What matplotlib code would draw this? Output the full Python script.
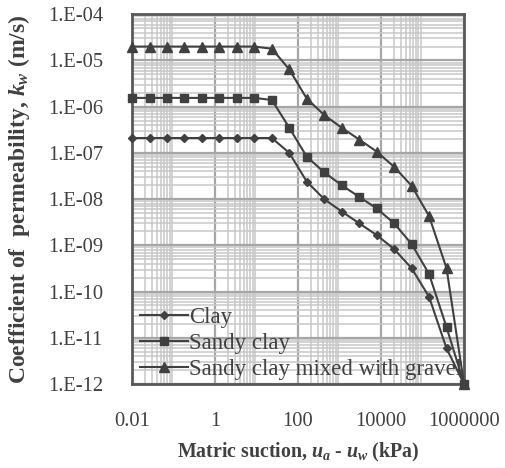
import matplotlib
matplotlib.use("Agg")
import matplotlib.pyplot as plt
from matplotlib.ticker import FixedLocator, FixedFormatter, NullFormatter

plt.rcParams['font.family'] = ['Liberation Serif', 'DejaVu Serif']
plt.rcParams['mathtext.fontset'] = 'custom'
plt.rcParams['mathtext.rm'] = 'Liberation Serif:bold'
plt.rcParams['mathtext.it'] = 'Liberation Serif:bold:italic'
plt.rcParams['mathtext.bf'] = 'Liberation Serif:bold'

# matric suction (kPa)
suction = [0.01, 0.0264, 0.0695, 0.183, 0.483, 1.27, 3.36, 8.86, 23.4, 61.6,
           162, 428, 1129, 2976, 7848, 20691, 54556, 143845, 379269, 1000000]

k_clay = [2.1e-7, 2.1e-7, 2.1e-7, 2.1e-7, 2.1e-7, 2.1e-7, 2.1e-7, 2.1e-7, 2.1e-7, 1.0e-7,
          2.4e-8, 1.0e-8, 5.4e-9, 3.0e-9, 1.67e-9, 8.3e-10, 3.2e-10, 7.7e-11, 5.9e-12, 1e-12]
k_sandy = [1.55e-6, 1.55e-6, 1.55e-6, 1.55e-6, 1.55e-6, 1.55e-6, 1.55e-6, 1.55e-6, 1.4e-6, 3.5e-7,
           8.3e-8, 3.8e-8, 2.0e-8, 1.12e-8, 6.3e-9, 3.0e-9, 1.07e-9, 2.4e-10, 1.7e-11, 1e-12]
k_gravel = [2.0e-5, 2.0e-5, 2.0e-5, 2.0e-5, 2.0e-5, 2.0e-5, 2.0e-5, 2.0e-5, 1.8e-5, 6.4e-6,
            1.5e-6, 6.6e-7, 3.5e-7, 1.95e-7, 1.07e-7, 5.0e-8, 1.95e-8, 4.3e-9, 3.2e-10, 1e-12]

x_ticks = [0.01, 1, 100, 10000, 1000000]
x_tick_labels = ['0.01', '1', '100', '10000', '1000000']
y_ticks = [1e-12, 1e-11, 1e-10, 1e-9, 1e-8, 1e-7, 1e-6, 1e-5, 1e-4]
y_tick_labels = ['1.E-12', '1.E-11', '1.E-10', '1.E-09', '1.E-08',
                 '1.E-07', '1.E-06', '1.E-05', '1.E-04']

fig = plt.figure(figsize=(5.06, 4.68), dpi=100)
ax = fig.add_axes([0.261, 0.1795, 0.656, 0.79])

c = '#404040'
ax.plot(suction, k_clay, color=c, lw=1.5, marker='D', ms=4.5, label='Clay', clip_on=False, zorder=5)
ax.plot(suction, k_sandy, color=c, lw=1.5, marker='s', ms=6, label='Sandy clay', clip_on=False, zorder=5)
ax.plot(suction, k_gravel, color=c, lw=1.5, marker='^', ms=6.5, label='Sandy clay mixed with gravel',
        clip_on=False, zorder=5)

ax.set_xscale('log')
ax.set_yscale('log')
ax.set_xlim(0.01, 1000000)
ax.set_ylim(1e-12, 1e-4)

# Excel-style minor lines: 1..9 x 10^(odd decade) on x, 2..9 per decade on y
x_minor = [k * 10.0 ** d for d in (-2, 0, 2, 4) for k in range(1, 10)]
y_minor = [k * 10.0 ** d for d in range(-12, -4) for k in range(2, 10)]
ax.xaxis.set_major_locator(FixedLocator(x_ticks))
ax.xaxis.set_major_formatter(FixedFormatter(x_tick_labels))
ax.xaxis.set_minor_locator(FixedLocator(x_minor))
ax.xaxis.set_minor_formatter(NullFormatter())
ax.yaxis.set_major_locator(FixedLocator(y_ticks))
ax.yaxis.set_major_formatter(FixedFormatter(y_tick_labels))
ax.yaxis.set_minor_locator(FixedLocator(y_minor))
ax.yaxis.set_minor_formatter(NullFormatter())

ax.grid(which='major', color='#a6a6a6', lw=1.6)
ax.grid(which='minor', color='#c8c8c8', lw=1.1)
ax.set_axisbelow(True)
ax.tick_params(which='both', length=0, labelsize=14.8, colors='#404040')
ax.tick_params(axis='y', pad=21)
ax.tick_params(axis='x', pad=20)
for s in ax.spines.values():
    s.set_color('#595959')
    s.set_linewidth(2)

ax.set_xlabel(r'Matric suction, $u_a$ - $u_w$ (kPa)', fontsize=14.3, fontweight='bold', color='#404040')
ax.set_ylabel(r'Coefficient of  permeability, $k_w$ (m/s)', fontsize=17, fontweight='bold', color='#404040')
ax.yaxis.set_label_coords(-0.3, 0.5)
ax.xaxis.set_label_coords(0.5, -0.155)

leg = ax.legend(loc='lower left', bbox_to_anchor=(0.014, 0.002), frameon=False, fontsize=16.5,
                handlelength=2.1, handletextpad=0.05, labelspacing=0.22, borderaxespad=0.0,
                borderpad=0.15)
for t in leg.get_texts():
    t.set_color('#404040')

fig.savefig('out.png', dpi=100)
